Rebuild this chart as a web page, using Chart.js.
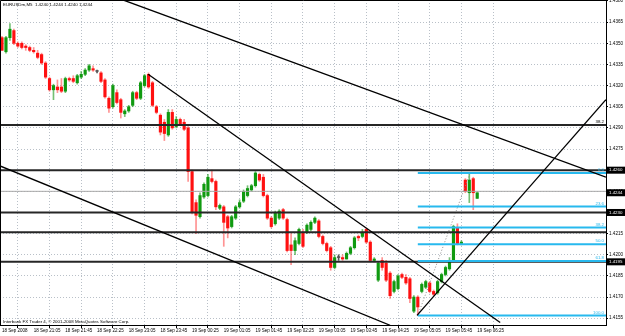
<!DOCTYPE html>
<html>
<head>
<meta charset="utf-8">
<script src="https://cdn.jsdelivr.net/npm/chart.js@4.4.0/dist/chart.umd.min.js"></script>
<style>
html,body{margin:0;padding:0;background:#fff}
</style>
</head>
<body>
<canvas id="c" width="625" height="336"></canvas>
<script>
// EURUSDm M5, 18 Sep 2008 20:25 -> 19 Sep 2008 06:25 (one entry per bar)
var timeLabels = ['18 Sep 2008','18 Sep 21:05','18 Sep 21:45','18 Sep 22:25','18 Sep 23:05','18 Sep 23:45',
  '19 Sep 00:25','19 Sep 01:05','19 Sep 01:45','19 Sep 02:25','19 Sep 03:05','19 Sep 03:45',
  '19 Sep 04:25','19 Sep 05:05','19 Sep 05:45','19 Sep 06:25'];
var labelBars = [0,8,16,24,32,40,48,56,64,72,80,88,96,104,112,120];
var priceTicks = [1.4155,1.4170,1.4185,1.4200,1.4215,1.4230,1.4245,1.4260,1.4275,1.4290,
  1.4305,1.4320,1.4335,1.4350,1.4365,1.4380];

var opens = [1.4354,1.4344,1.4354,1.4359,1.4350,1.4350,1.4348,1.4347,1.4345,1.4343,
  1.4342,1.4336,1.4325,1.4317,1.4319,1.4319,1.4316,1.4325,1.4325,1.4322,
  1.4326,1.4328,1.4331,1.4332,1.4330,1.4329,1.4324,1.4311,1.4305,1.4315,
  1.4310,1.4300,1.4302,1.4306,1.4315,1.4311,1.4320,1.4328,1.4322,1.4305,
  1.4299,1.4294,1.4285,1.4301,1.4291,1.4296,1.4294,1.4290,1.4259,1.4237,
  1.4227,1.4241,1.4242,1.4254,1.4252,1.4233,1.4234,1.4227,1.4220,1.4226,
  1.4234,1.4238,1.4242,1.4246,1.4249,1.4257,1.4255,1.4242,1.4226,1.4222,
  1.4226,1.4232,1.4225,1.4207,1.4203,1.4208,1.4216,1.4216,1.4218,1.4223,
  1.4224,1.4213,1.4208,1.4205,1.4191,1.4198,1.4198,1.4197,1.4201,1.4205,
  1.4213,1.4213,1.4218,1.4209,1.4196,1.4182,1.4196,1.4194,1.4187,1.4174,
  1.4176,1.4186,1.4184,1.4183,1.4160,1.4170,1.4174,1.4177,1.4180,1.4174,
  1.4173,1.4181,1.4186,1.4190,1.4196,1.4219,1.4208,1.4253,1.4244,1.4254,
  1.4240];
var highs = [1.4355,1.4355,1.4364,1.4360,1.4351,1.4351,1.4349,1.4348,1.4347,1.4345,
  1.4343,1.4337,1.4326,1.4321,1.4324,1.4325,1.4326,1.4326,1.4327,1.4328,
  1.4330,1.4332,1.4335,1.4334,1.4331,1.4330,1.4325,1.4312,1.4321,1.4317,
  1.4311,1.4303,1.4306,1.4316,1.4316,1.4323,1.4328,1.4329,1.4323,1.4306,
  1.4300,1.4296,1.4303,1.4303,1.4298,1.4297,1.4296,1.4291,1.4260,1.4239,
  1.4244,1.4251,1.4257,1.4260,1.4253,1.4236,1.4235,1.4228,1.4228,1.4235,
  1.4239,1.4246,1.4249,1.4250,1.4259,1.4258,1.4257,1.4243,1.4227,1.4231,
  1.4232,1.4233,1.4226,1.4215,1.4212,1.4219,1.4218,1.4222,1.4224,1.4227,
  1.4225,1.4214,1.4209,1.4206,1.4200,1.4200,1.4200,1.4202,1.4206,1.4213,
  1.4214,1.4218,1.4219,1.4210,1.4198,1.4195,1.4198,1.4196,1.4188,1.4182,
  1.4186,1.4187,1.4186,1.4184,1.4171,1.4171,1.4180,1.4182,1.4181,1.4175,
  1.4182,1.4187,1.4192,1.4198,1.4221,1.4222,1.4210,1.4254,1.4258,1.4255,
  1.4244];
var lows = [1.4345,1.4343,1.4352,1.4349,1.4347,1.4346,1.4345,1.4344,1.4343,1.4339,
  1.4335,1.4325,1.4316,1.4310,1.4315,1.4315,1.4315,1.4323,1.4322,1.4321,
  1.4325,1.4327,1.4330,1.4330,1.4329,1.4322,1.4311,1.4301,1.4304,1.4307,
  1.4297,1.4298,1.4301,1.4305,1.4310,1.4310,1.4319,1.4318,1.4305,1.4300,
  1.4285,1.4281,1.4284,1.4289,1.4290,1.4292,1.4288,1.4252,1.4229,1.4215,
  1.4226,1.4240,1.4241,1.4251,1.4232,1.4232,1.4206,1.4212,1.4219,1.4225,
  1.4233,1.4237,1.4241,1.4245,1.4248,1.4252,1.4241,1.4225,1.4219,1.4221,
  1.4225,1.4225,1.4202,1.4193,1.4200,1.4207,1.4205,1.4215,1.4217,1.4222,
  1.4212,1.4207,1.4202,1.4189,1.4190,1.4196,1.4196,1.4197,1.4200,1.4204,
  1.4210,1.4212,1.4208,1.4195,1.4195,1.4181,1.4189,1.4181,1.4169,1.4173,
  1.4175,1.4183,1.4179,1.4166,1.4159,1.4157,1.4173,1.4176,1.4173,1.4171,
  1.4172,1.4180,1.4185,1.4189,1.4195,1.4207,1.4207,1.4244,1.4237,1.4232,
  1.4240];
var closes = [1.4345,1.4354,1.4360,1.4350,1.4348,1.4347,1.4347,1.4345,1.4344,1.4340,
  1.4336,1.4326,1.4317,1.4320,1.4317,1.4316,1.4325,1.4324,1.4323,1.4327,
  1.4328,1.4331,1.4334,1.4331,1.4330,1.4323,1.4312,1.4304,1.4320,1.4308,
  1.4301,1.4302,1.4305,1.4315,1.4311,1.4322,1.4327,1.4319,1.4306,1.4301,
  1.4287,1.4286,1.4301,1.4290,1.4296,1.4293,1.4289,1.4259,1.4230,1.4228,
  1.4242,1.4250,1.4255,1.4252,1.4234,1.4235,1.4223,1.4219,1.4227,1.4234,
  1.4237,1.4245,1.4247,1.4249,1.4258,1.4253,1.4242,1.4226,1.4220,1.4230,
  1.4231,1.4226,1.4203,1.4203,1.4210,1.4218,1.4206,1.4221,1.4223,1.4226,
  1.4213,1.4208,1.4203,1.4191,1.4198,1.4198,1.4197,1.4201,1.4205,1.4212,
  1.4212,1.4216,1.4209,1.4196,1.4197,1.4194,1.4191,1.4182,1.4171,1.4181,
  1.4185,1.4184,1.4180,1.4169,1.4170,1.4163,1.4179,1.4181,1.4174,1.4172,
  1.4181,1.4186,1.4191,1.4196,1.4220,1.4208,1.4209,1.4245,1.4253,1.4244,
  1.4244];

// drawn objects, as [bar, price] pairs
var hLines = [1.4292, 1.4260, 1.4230, 1.4216, 1.4195];
var bidLine = 1.4245;
var trendLines = [
  [[30.3, 1.4381], [152.5, 1.4255]],
  [[36.9, 1.4328], [125.8, 1.4152]],
  [[-0.5, 1.4263], [98.0, 1.4150]],
  [[104.8, 1.4157], [152.5, 1.4310]]
];
var fibFrom = [105, 1.4157], fibTo = [118.2, 1.4258];
var fibRatios = [0, 0.236, 0.382, 0.5, 0.618, 1];
var fibNames = ['0.0', '23.6', '38.2', '50.0', '61.8', '100.0'];
var markedPrices = ['1.4260', '1.4244', '1.4230', '1.4195'];
var header = 'EURUSDm,M5  1.4240 1.4244 1.4240 1.4244';
var footer = 'Interbank FX Trader 4, \u00a9 2001-2008 MetaQuotes Software Corp.';

var X_MIN = -0.505, X_MAX = 152.52;
var Y_MAX = 1.43807, Y_MIN = 1.41502;
var FONT = 'Liberation Sans';

function candleColor(i, a) {
  if (closes[i] > opens[i]) return a ? 'rgba(0,140,0,0.55)' : '#109a10';
  if (closes[i] < opens[i]) return a ? 'rgba(255,40,40,0.5)' : '#ff1010';
  return '#555';
}

var datasets = [];
trendLines.forEach(function (t) {
  datasets.push({type: 'line', order: 0, data: [{x: t[0][0], y: t[0][1]}, {x: t[1][0], y: t[1][1]}],
    borderColor: '#000', borderWidth: 1.3, pointRadius: 0});
});
hLines.forEach(function (p) {
  datasets.push({type: 'line', order: 1, data: [{x: X_MIN, y: p}, {x: X_MAX, y: p}],
    borderColor: '#262626', borderWidth: 2, pointRadius: 0});
});
datasets.push({type: 'line', order: 1, data: [{x: X_MIN, y: bidLine}, {x: X_MAX, y: bidLine}],
  borderColor: '#a8a8a8', borderWidth: 1, pointRadius: 0});
var fibPrices = fibRatios.map(function (r) { return fibTo[1] - r * (fibTo[1] - fibFrom[1]); });
fibPrices.forEach(function (p) {
  datasets.push({type: 'line', order: 0, data: [{x: fibFrom[0], y: p}, {x: X_MAX, y: p}],
    borderColor: '#27b9ee', borderWidth: 2, pointRadius: 0});
});
datasets.push({type: 'line', order: 0, data: [{x: fibFrom[0], y: fibFrom[1]}, {x: fibTo[0], y: fibTo[1]}],
  borderColor: '#888', borderWidth: 1, borderDash: [1, 2], pointRadius: 0});

datasets.push({type: 'bar', order: 3, grouped: false, barThickness: 1,
  data: highs.map(function (h, i) { return {x: i, y: [lows[i], h]}; }),
  backgroundColor: opens.map(function (o, i) { return candleColor(i, true); })});
datasets.push({type: 'bar', order: 2, grouped: false, barThickness: 2.5, minBarLength: 1,
  data: opens.map(function (o, i) { return {x: i, y: [o, closes[i]]}; }),
  backgroundColor: opens.map(function (o, i) { return candleColor(i, false); })});

var overlay = {
  id: 'overlay',
  afterDraw: function (chart) {
    var ctx = chart.ctx, ys = chart.scales.y, a = chart.chartArea;
    ctx.save();
    // frame
    ctx.strokeStyle = '#000';
    ctx.lineWidth = 1;
    ctx.beginPath();
    ctx.moveTo(a.left + 0.5, a.bottom);
    ctx.lineTo(a.left + 0.5, a.top + 0.5);
    ctx.lineTo(a.right, a.top + 0.5);
    ctx.stroke();
    ctx.font = '4.4px "' + FONT + '"';
    ctx.textBaseline = 'middle';
    ctx.fillStyle = '#000';
    ctx.textAlign = 'left';
    ctx.fillText(header, 3, 5);
    ctx.fillText(footer, 3, 322);
    // fib level captions
    ctx.textAlign = 'right';
    ctx.fillStyle = '#27b9ee';
    fibPrices.forEach(function (p, k) {
      ctx.fillText(fibNames[k], a.right - 2, ys.getPixelForValue(p) - 3);
    });
    ctx.fillStyle = '#000';
    ctx.fillText('38.2', a.right - 2, ys.getPixelForValue(hLines[0]) - 3);
    // marked prices on the axis
    ctx.textAlign = 'left';
    markedPrices.forEach(function (s) {
      var y = ys.getPixelForValue(parseFloat(s));
      ctx.fillStyle = '#000';
      ctx.fillRect(a.right + 1, y - 3.5, 625 - a.right - 1, 7);
      ctx.fillStyle = '#fff';
      ctx.fillText(s, a.right + 3, y);
    });
    ctx.restore();
  }
};

new Chart(document.getElementById('c'), {
  type: 'bar',
  data: {datasets: datasets},
  plugins: [overlay],
  options: {
    responsive: false,
    animation: false,
    layout: {padding: 0},
    plugins: {legend: {display: false}, tooltip: {enabled: false}},
    scales: {
      x: {
        type: 'linear', min: X_MIN, max: X_MAX, offset: false,
        afterBuildTicks: function (s) { s.ticks = labelBars.map(function (v) { return {value: v}; }); },
        afterFit: function (s) { s.height = 11; s.paddingLeft = 0; s.paddingRight = 0; },
        ticks: {
          autoSkip: false, maxRotation: 0, align: 'start', padding: 0, color: '#000',
          font: {family: FONT, size: 4.5},
          callback: function (v, k) { return timeLabels[k]; }
        },
        grid: {color: '#b9c0c8', lineWidth: 1, tickLength: 3, tickColor: '#000'},
        border: {display: true, color: '#000', width: 1, dash: [1, 2]}
      },
      y: {
        type: 'linear', position: 'right', min: Y_MIN, max: Y_MAX,
        afterBuildTicks: function (s) { s.ticks = priceTicks.map(function (v) { return {value: v}; }); },
        afterFit: function (s) { s.width = 19; s.paddingTop = 0; s.paddingBottom = 0; },
        ticks: {
          padding: 1, color: '#000', font: {family: FONT, size: 4.6},
          callback: function (v) { return v.toFixed(4); }
        },
        grid: {color: '#b9c0c8', lineWidth: 1, tickLength: 2, tickColor: '#000'},
        border: {display: true, color: '#000', width: 1, dash: [1, 2]}
      }
    }
  }
});
</script>
</body>
</html>
